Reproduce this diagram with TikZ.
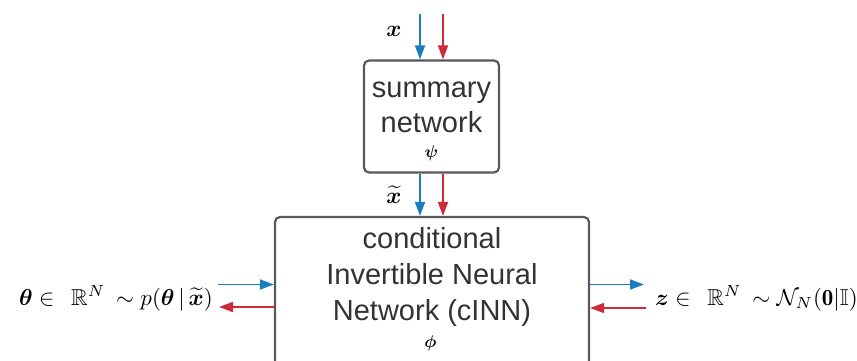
\documentclass[tikz,border=0pt]{standalone}
\usepackage{amsmath,amssymb,bm}
\usepackage{graphicx}
\usepackage{fontspec}
\newfontfamily\boxfont{Liberation Sans}
\usetikzlibrary{arrows.meta}
\definecolor{flowblue}{RGB}{28,124,190}
\definecolor{flowred}{RGB}{204,42,56}
\definecolor{boxgray}{RGB}{88,88,88}
\definecolor{txtgray}{RGB}{51,51,51}
\newcommand{\mbig}[1]{\scalebox{2.3}{$#1$}}
\newcommand{\mpar}[1]{\scalebox{1.7}{$#1$}}
\begin{document}
\begin{tikzpicture}[x=1pt,y=-1pt,
  netbox/.style={draw=boxgray, line width=2.2pt, rounded corners=5pt, fill=white, inner sep=0pt},
  fwd/.style={draw=flowblue, line width=1.8pt, -{Triangle[length=14pt,width=10pt]}},
  bwd/.style={draw=flowred, line width=1.8pt, -{Triangle[length=14pt,width=10pt]}},
  boxtext/.style={font=\boxfont\fontsize{29}{36}\selectfont, text=txtgray, align=center, inner sep=0pt},
  mathlbl/.style={inner sep=0pt},
  parlbl/.style={inner sep=0pt}]
\useasboundingbox (0,0) rectangle (857,361);
\clip (0,0) rectangle (857,361);
% boxes
\node[netbox, minimum width=135pt, minimum height=112pt] (sum) at (431.5,116.5) {};
\node[netbox, minimum width=314pt, minimum height=160pt] (cinn) at (432,297) {};
% texts in boxes
\node[boxtext, anchor=base] (sum1) at (431.5,97) {summary};
\node[boxtext, anchor=base] (sum2) at (431.5,132) {network};
\node[parlbl] (psi) at (431.5,153) {\mpar{\bm{\psi}}};
\node[boxtext, anchor=base] (c1) at (432,248) {conditional};
\node[boxtext, anchor=base] (c2) at (432,284) {Invertible Neural};
\node[boxtext, anchor=base] (c3) at (432,320) {Network (cINN)};
\node[parlbl] (phi) at (430.5,343) {\mpar{\bm{\phi}}};
% labels
\node[mathlbl, anchor=base] (xl) at (394,37) {\mbig{\bm{x}}};
\node[mathlbl, anchor=base] (xtl) at (394,203) {\mbig{\widetilde{\bm{x}}}};
\node[mathlbl, anchor=base east] (thl) at (213,305) {\mbig{\bm{\theta}\in\hspace{4.5pt}\mathbb{R}^N\hspace{2pt}\sim p(\bm{\theta}\,|\,\widetilde{\bm{x}})}};
\node[mathlbl, anchor=base west] (zl) at (655,305) {\mbig{\bm{z}\in\hspace{4.5pt}\mathbb{R}^N\hspace{2pt}\sim\mathcal{N}_N(\mathbf{0}|\mathbb{I})}};
% connectors
\coordinate (tb) at (420,14);
\coordinate (tr) at (443,14);
\draw[fwd] (tb) -- (tb |- sum.north);
\draw[bwd] (tr) -- (tr |- sum.north);
\draw[fwd] (tb |- sum.south) -- (tb |- cinn.north);
\draw[bwd] (tr |- sum.south) -- (tr |- cinn.north);
\coordinate (lb) at (218,284.5);
\coordinate (lr) at (219,307);
\draw[fwd] (lb) -- (lb -| cinn.west);
\draw[bwd] (lr -| cinn.west) -- (lr);
\coordinate (rb) at (644,284.5);
\coordinate (rr) at (646,308);
\draw[fwd] (rb -| cinn.east) -- (rb);
\draw[bwd] (rr) -- (rr -| cinn.east);
\end{tikzpicture}
\end{document}
